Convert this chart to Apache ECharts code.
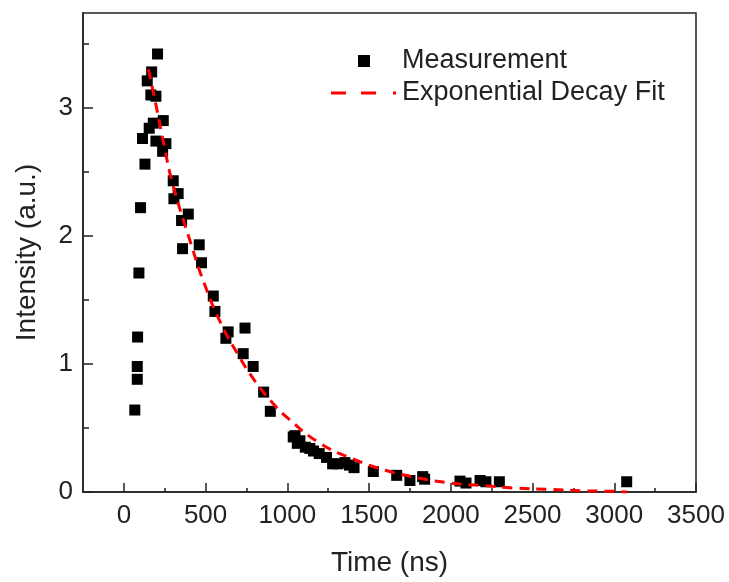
<!DOCTYPE html>
<html>
<head>
<meta charset="utf-8">
<script src="https://cdn.jsdelivr.net/npm/echarts@6/dist/echarts.min.js"></script>
<style>html,body{margin:0;padding:0;background:#fff;}#c{width:729px;height:582px;}</style>
</head>
<body>
<div id="c"></div>
<script>
// Measurement points: time (ns), intensity (a.u.)
const measTime = [67, 82, 82, 84, 92, 102, 114, 129, 143, 155, 165, 170, 180, 196, 196, 206, 237, 241, 257, 302, 306, 332, 353, 359, 394, 461, 475, 547, 557, 624, 638, 730, 741, 791, 855, 896, 1036, 1047, 1061, 1077, 1110, 1138, 1160, 1195, 1240, 1277, 1310, 1352, 1380, 1408, 1526, 1669, 1750, 1828, 1840, 2056, 2093, 2179, 2215, 2297, 3076];
const measValue = [0.64, 0.88, 0.98, 1.21, 1.71, 2.22, 2.76, 2.56, 3.21, 2.84, 3.10, 3.28, 2.88, 3.09, 2.74, 3.42, 2.66, 2.90, 2.72, 2.43, 2.29, 2.33, 2.12, 1.90, 2.17, 1.93, 1.79, 1.53, 1.41, 1.20, 1.25, 1.08, 1.28, 0.98, 0.78, 0.63, 0.43, 0.44, 0.38, 0.40, 0.35, 0.34, 0.32, 0.30, 0.27, 0.22, 0.22, 0.23, 0.21, 0.19, 0.16, 0.13, 0.09, 0.12, 0.10, 0.085, 0.07, 0.09, 0.08, 0.08, 0.08];
// Fit curve
const fitTime = [150, 200, 250, 300, 400, 500, 600, 700, 800, 900, 1000, 1200, 1400, 1600, 1800, 2000, 2200, 2400, 2600, 2800, 3000, 3080];
const fitValue = [3.30, 3.00, 2.68, 2.40, 1.98, 1.60, 1.30, 1.07, 0.87, 0.71, 0.58, 0.38, 0.26, 0.17, 0.11, 0.07, 0.05, 0.03, 0.02, 0.01, 0.005, 0.0];
// Ticks
const xLabelTicks = [0, 500, 1000, 1500, 2000, 2500, 3000, 3500];
const xMinorTicks = [250, 750, 1250, 1750, 2250, 2750, 3250];
const yLabelTicks = [0, 1, 2, 3];
const yMinorTicks = [0.5, 1.5, 2.5, 3.5];

const FONT = '"Liberation Sans", Arial, sans-serif';
const ink = '#222';

// legend icons (shapes only; bounding points fix the box to 66x12)
const squareIcon = 'path://M0,0L0.01,0Z M66,12L65.99,12Z M27,0L39,0L39,12L27,12Z';
const dashIcon = 'path://M0,0L0.01,0Z M66,12L65.99,12Z M0,4.5L15,4.5L15,7.5L0,7.5Z M30,4.5L45,4.5L45,7.5L30,7.5Z M62,4.5L65,4.5L65,7.5L62,7.5Z';

const chart = echarts.init(document.getElementById('c'), null, {renderer: 'canvas'});
chart.setOption({
  animation: false,
  backgroundColor: '#fff',
  grid: {left: 83, right: 33, top: 13, bottom: 86, show: true, borderColor: ink, borderWidth: 1.5, backgroundColor: 'transparent'},
  legend: {
    left: 331, top: 46, orient: 'vertical', padding: 0,
    itemWidth: 66, itemHeight: 12, itemGap: 2,
    textStyle: {fontFamily: FONT, fontSize: 27, color: ink, lineHeight: 30},
    data: [
      {name: 'Measurement', icon: squareIcon, itemStyle: {color: '#000'}},
      {name: 'Exponential Decay Fit', icon: dashIcon, itemStyle: {color: '#ff0000'}}
    ]
  },
  xAxis: [{
    type: 'value', min: -250, max: 3500, position: 'bottom',
    name: 'Time (ns)', nameLocation: 'middle', nameGap: 57,
    nameTextStyle: {fontFamily: FONT, fontSize: 28, color: ink},
    axisLine: {onZero: false, lineStyle: {color: ink, width: 1.5}},
    axisTick: {show: true, inside: true, length: 9, customValues: xLabelTicks, lineStyle: {color: ink, width: 1.5}},
    axisLabel: {customValues: xLabelTicks, formatter: v => String(v), fontFamily: FONT, fontSize: 26, color: ink, margin: 11},
    splitLine: {show: false}
  }, {
    type: 'value', min: -250, max: 3500, position: 'bottom',
    axisLine: {show: true, onZero: false, lineStyle: {color: ink, width: 1.5, opacity: 0}},
    axisTick: {show: true, inside: true, length: 4, customValues: xMinorTicks, lineStyle: {color: ink, width: 1.5}},
    axisLabel: {show: false},
    splitLine: {show: false}
  }],
  yAxis: [{
    type: 'value', min: 0, max: 3.74, position: 'left',
    name: 'Intensity (a.u.)', nameLocation: 'middle', nameGap: 42,
    nameTextStyle: {fontFamily: FONT, fontSize: 28, color: ink},
    axisLine: {show: true, onZero: false, lineStyle: {color: ink, width: 1.5}},
    axisTick: {show: true, inside: true, length: 10, customValues: yLabelTicks, lineStyle: {color: ink, width: 1.5}},
    axisLabel: {customValues: yLabelTicks, formatter: v => String(v), fontFamily: FONT, fontSize: 26, color: ink, margin: 10},
    splitLine: {show: false}
  }, {
    type: 'value', min: 0, max: 3.74, position: 'left',
    axisLine: {show: true, onZero: false, lineStyle: {color: ink, width: 1.5, opacity: 0}},
    axisTick: {show: true, inside: true, length: 6, customValues: yMinorTicks, lineStyle: {color: ink, width: 1.5}},
    axisLabel: {show: false},
    splitLine: {show: false}
  }],
  series: [{
    name: 'Measurement', type: 'scatter', symbol: 'rect', symbolSize: 11,
    itemStyle: {color: '#000', opacity: 1},
    data: measTime.map((t, i) => [t, measValue[i]]),
    z: 3
  }, {
    name: 'Exponential Decay Fit', type: 'line', smooth: true, symbol: 'none',
    lineStyle: {color: '#ff0000', width: 3, type: [10, 7]},
    itemStyle: {color: '#ff0000'},
    data: fitTime.map((t, i) => [t, fitValue[i]]),
    z: 4
  }]
});
</script>
</body>
</html>
